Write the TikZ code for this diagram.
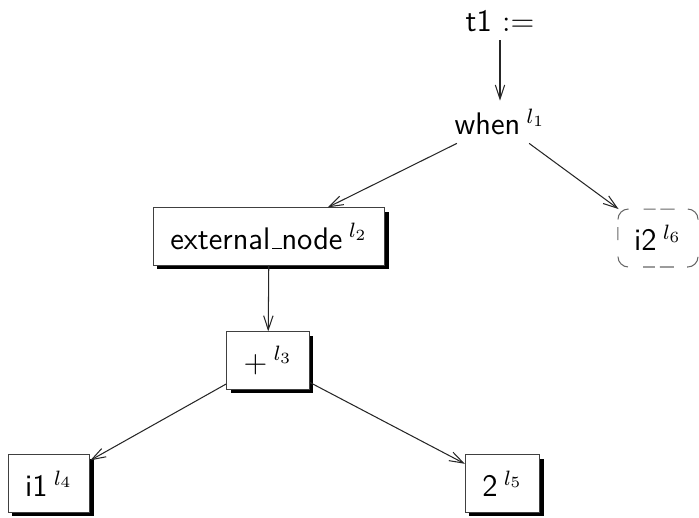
\documentclass[tikz,border=0pt]{standalone}
\usetikzlibrary{shadows,arrows.meta}
\newcommand{\lowbar}{\kern.06em\rule{.3em}{0.4pt}}
\newcommand{\lab}[1]{\kern2.5pt$^{l_{#1}}$}
\tikzset{
  every node/.style={font=\large\sffamily},
  astbox/.style={draw=black!75, fill=white, inner xsep=6.5pt, inner ysep=3pt,
    minimum height=22pt,
    drop shadow={shadow xshift=1.5pt, shadow yshift=-1.5pt, fill=black, opacity=1}},
  astref/.style={inner sep=2pt, outer sep=0pt,
    minimum width=30.8pt, minimum height=22.3pt},
  astrefline/.style={draw=black!60,
    dash pattern=on 0pt off 6.3pt on 5pt off 3pt on 6.3pt off 5.8pt on 4.6pt
      off 1.9pt on 5.4pt off 5.1pt on 6.3pt off 14.3pt on 6.3pt off 5.1pt
      on 5.4pt off 1.9pt on 4.6pt off 5.8pt on 6.3pt},
  astroot/.style={inner xsep=1pt, inner ysep=3pt},
  astedge/.style={-{Straight Barb[length=5.4pt,width=3.6pt]}, black!85}
}
\begin{document}
\begin{tikzpicture}[x=0.01352cm, y=-0.01352cm]
\useasboundingbox (0,0) rectangle (699,517);

\node[astroot] (assign) at (500,21) {t1 $:=$};
\node[astroot] (when) at (500,122) {when\lab{1}};
\node[astbox] (ext) at (269,236.5) {external\lowbar node\lab{2}};
\node[astref] (i2) at (658,238) {i2\lab{6}};
\node[astbox] (plus) at (268,360.5) {$+$\lab{3}};
\node[astbox] (i1) at (49,483.5) {i1\lab{4}};
\node[astbox] (two) at (502.5,483.5) {2\lab{5}};

% dashed outline of the reference node
\draw[astrefline] ([yshift=4pt]i2.south west) -- ([yshift=-4pt]i2.north west)
  arc[start angle=180, end angle=90, radius=4pt] -- ([xshift=-4pt]i2.north east)
  arc[start angle=90, end angle=0, radius=4pt] -- ([yshift=4pt]i2.south east)
  arc[start angle=0, end angle=-90, radius=4pt] -- ([xshift=4pt]i2.south west)
  arc[start angle=270, end angle=180, radius=4pt];

\draw[astedge] (assign) -- (when);
\draw[astedge] (when) -- (ext);
\draw[astedge] (when) -- (i2);
\draw[astedge] (ext) -- (plus);
\draw[astedge] (plus) -- (i1);
\draw[astedge] (plus) -- (two);
\end{tikzpicture}
\end{document}
